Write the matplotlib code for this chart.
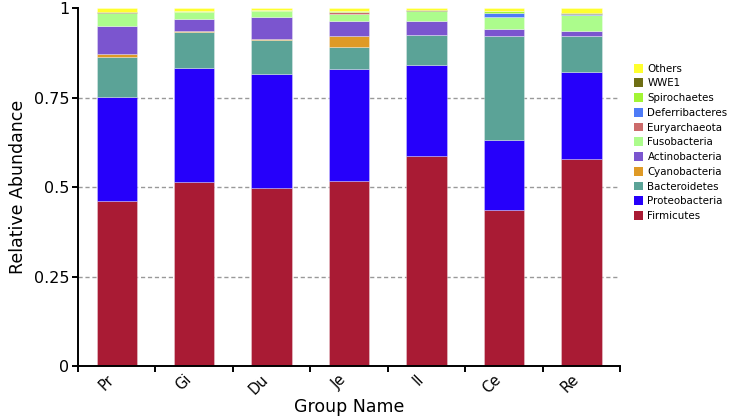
import numpy as np
import matplotlib
matplotlib.use("Agg")
import matplotlib.pyplot as plt
import matplotlib.transforms as mtransforms
from matplotlib.patches import Patch

# Groups (x axis) and phyla (stack order, bottom -> top)
groups = ["Pr", "Gi", "Du", "Je", "Il", "Ce", "Re"]
phyla = ["Firmicutes", "Proteobacteria", "Bacteroidetes", "Cyanobacteria",
         "Actinobacteria", "Fusobacteria", "Euryarchaeota", "Deferribacteres",
         "Spirochaetes", "WWE1", "Others"]

firmicutes     = [0.461, 0.514, 0.497, 0.517, 0.587, 0.436, 0.578]
proteobacteria = [0.291, 0.320, 0.321, 0.313, 0.256, 0.197, 0.243]
bacteroidetes  = [0.113, 0.099, 0.093, 0.063, 0.082, 0.290, 0.102]
cyanobacteria  = [0.007, 0.005, 0.003, 0.030, 0.001, 0.001, 0.001]
actinobacteria = [0.078, 0.032, 0.063, 0.041, 0.040, 0.017, 0.012]
fusobacteria   = [0.036, 0.021, 0.016, 0.021, 0.026, 0.035, 0.046]
euryarchaeota  = [0.000, 0.000, 0.000, 0.006, 0.000, 0.001, 0.000]
deferribacteres = [0.000, 0.000, 0.000, 0.000, 0.000, 0.011, 0.002]
spirochaetes   = [0.002, 0.002, 0.002, 0.001, 0.002, 0.004, 0.001]
wwe1           = [0.001, 0.001, 0.001, 0.001, 0.001, 0.002, 0.001]
others         = [0.011, 0.006, 0.004, 0.007, 0.005, 0.006, 0.014]

series = [firmicutes, proteobacteria, bacteroidetes, cyanobacteria,
          actinobacteria, fusobacteria, euryarchaeota, deferribacteres,
          spirochaetes, wwe1, others]
colors = ["#A91B34", "#2600FA", "#5BA397", "#DF9A26", "#7B55CF", "#ACFC8C",
          "#CC6B6B", "#4E7BF7", "#A2F534", "#6E6E14", "#FFFF2E"]

fig = plt.figure(figsize=(7.35, 4.19), dpi=100)
ax = fig.add_axes([0.106, 0.126, 0.738, 0.854])

x = np.arange(len(groups))
for yv in (0.25, 0.5, 0.75):
    ax.axhline(yv, color="#999999", lw=1.0, ls=(0, (3, 2)), zorder=0)

bottom = np.zeros(len(groups))
for vals, col in zip(series, colors):
    vals = np.array(vals)
    ax.bar(x, vals, width=0.52, bottom=bottom, color=col,
           edgecolor=(1, 1, 1, 0.35), linewidth=0.6, zorder=2)
    bottom += vals

ax.set_xlim(-0.5, len(groups) - 0.5)
ax.set_ylim(0, 1)
for s in ("top", "right"):
    ax.spines[s].set_visible(False)
for s in ("left", "bottom"):
    ax.spines[s].set_linewidth(1.4)

ax.set_yticks([0, 0.25, 0.5, 0.75, 1])
ax.set_yticklabels(["0", "0.25", "0.5", "0.75", "1"], fontsize=11.5)
ax.tick_params(axis="y", direction="out", length=4, width=1.4, pad=2)

ax.set_xticks(x)
ax.set_xticklabels(groups, rotation=45, ha="right", fontsize=10.5)
shift = mtransforms.ScaledTranslation(5 / 100, -1 / 100, fig.dpi_scale_trans)
for lbl in ax.get_xticklabels():
    lbl.set_transform(lbl.get_transform() + shift)
ax.set_xticks(np.arange(-0.5, len(groups), 1.0), minor=True)
ax.tick_params(axis="x", which="major", length=0, pad=4)
ax.tick_params(axis="x", which="minor", direction="out", length=4, width=1.4)

ax.set_xlabel("Group Name", fontsize=12.5, labelpad=1)
ax.set_ylabel("Relative Abundance", fontsize=12.5, labelpad=5)

handles = [Patch(facecolor=c, edgecolor="none", label=n)
           for n, c in zip(phyla, colors)][::-1]
fig.legend(handles=handles, loc="upper left", bbox_to_anchor=(0.862, 0.848),
           frameon=False, fontsize=7.4, handlelength=0.95, handleheight=0.95,
           handletextpad=0.4, labelspacing=0.46, borderpad=0, borderaxespad=0)

fig.savefig("out.png", dpi=100)
